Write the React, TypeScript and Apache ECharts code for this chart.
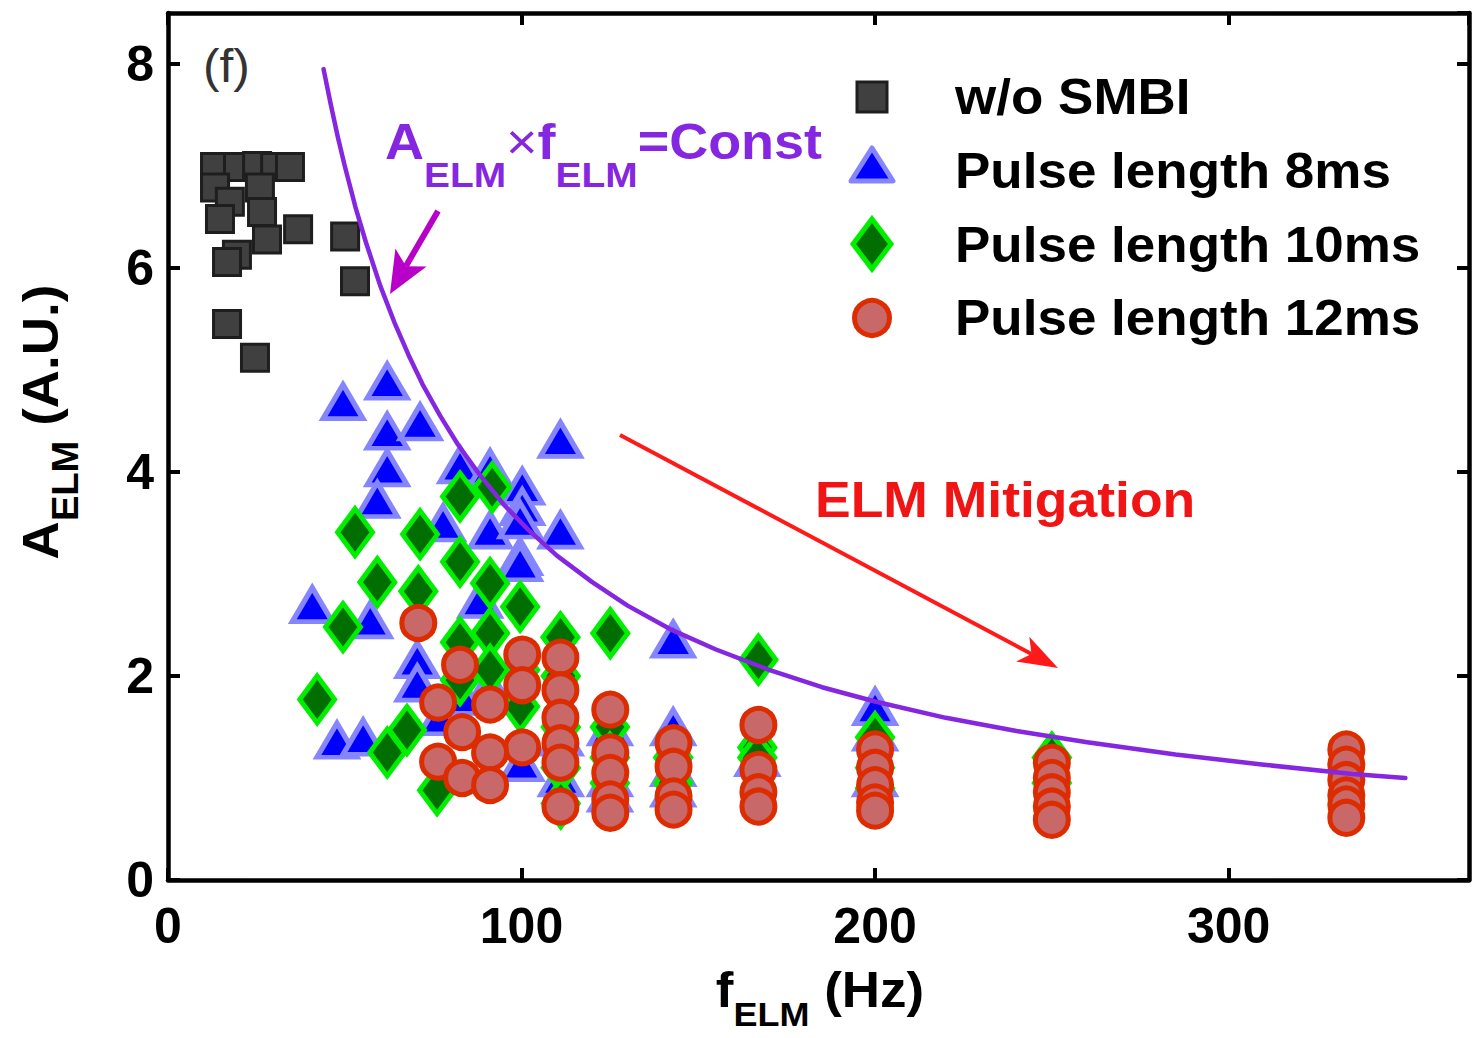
import React, { useEffect, useRef } from "react";
import * as echarts from "echarts";

const FONT = "'Liberation Sans', Arial, Helvetica, sans-serif";

const xTicks = { min: 0, max: 368, interval: 100 };
const yTicks = { min: 0, max: 8.5, interval: 2 };

const seriesNames = ["w/o SMBI", "Pulse length 8ms", "Pulse length 10ms", "Pulse length 12ms"];

// w/o SMBI (black squares)
const noSmbi: [number, number][] = [
  [13.3, 6.99], [19.8, 6.99], [25.2, 7.0], [30.3, 6.99], [34.5, 6.99],
  [13.3, 6.79], [26.0, 6.79], [17.5, 6.65], [14.7, 6.48], [26.6, 6.55],
  [28.0, 6.28], [36.8, 6.38], [50.1, 6.31], [19.5, 6.13], [16.7, 6.06],
  [52.9, 5.87], [16.7, 5.45], [24.6, 5.12],
];

// Pulse length 8ms (blue triangles)
const pulse8: [number, number][] = [
  [49.5, 4.69], [62.0, 4.89], [62.0, 4.40], [71.3, 4.49], [62.0, 4.04], [59.2, 3.73],
  [82.6, 4.07], [91.1, 4.04], [111.0, 4.32], [100.2, 3.86], [100.2, 3.66], [77.8, 3.50],
  [91.1, 3.43], [99.6, 3.53], [111.0, 3.43], [99.6, 3.17], [40.8, 2.70], [57.2, 2.55],
  [70.5, 2.16], [70.5, 1.93], [47.8, 1.37], [55.2, 1.40], [88.3, 2.75], [99.6, 3.11],
  [142.9, 2.36], [200.0, 1.70],
  [100.0, 1.15], [111.1, 1.40], [111.1, 1.00], [125.0, 1.50], [125.0, 1.00], [125.0, 0.85],
  [142.9, 1.50], [142.9, 1.10], [142.9, 0.90], [166.7, 1.20], [200.0, 1.45], [200.0, 1.00],
  [90.9, 1.90], [83.3, 1.80], [76.9, 1.60],
];

// Pulse length 10ms (green diamonds)
const pulse10: [number, number][] = [
  [52.9, 3.41], [71.3, 3.39], [82.6, 3.76], [91.7, 3.85], [59.2, 2.92], [82.6, 3.12],
  [91.1, 2.91], [70.8, 2.83], [49.5, 2.48], [99.6, 2.68], [91.1, 2.42], [82.6, 2.33],
  [111.0, 2.38], [125.1, 2.42], [167.0, 2.16], [42.2, 1.77], [67.6, 1.47], [62.0, 1.25],
  [76.1, 0.88], [99.6, 2.06], [91.1, 2.06], [82.6, 1.96], [99.6, 1.70],
  [111.1, 2.00], [111.1, 1.50], [111.1, 1.10], [111.1, 0.75], [125.0, 1.50], [125.0, 1.20],
  [125.0, 0.95], [142.9, 1.20], [142.9, 0.95], [166.7, 1.30], [166.7, 1.20], [200.0, 1.40],
  [200.0, 1.10], [200.0, 0.90], [250.0, 1.20], [250.0, 0.95],
];

// Pulse length 12ms (red circles)
const pulse12: [number, number][] = [
  [70.8, 2.52], [82.6, 2.11], [100.2, 2.21], [100.2, 1.91], [100.2, 1.30],
  [111.0, 2.18], [111.0, 1.86], [111.0, 1.59], [111.0, 1.34], [111.0, 1.15], [111.0, 0.72],
  [76.4, 1.74], [91.1, 1.72], [83.2, 1.45], [91.1, 1.25], [76.4, 1.16], [83.2, 1.00], [91.1, 0.93],
  [125.1, 1.67], [125.1, 1.25], [125.1, 1.05], [125.1, 0.79], [125.1, 0.66],
  [143.0, 1.34], [143.0, 1.11], [143.0, 0.82], [143.0, 0.69],
  [167.0, 1.52], [167.0, 1.08], [167.0, 0.86], [167.0, 0.72],
  [200.0, 1.28], [200.0, 1.10], [200.0, 0.93], [200.0, 0.76], [200.0, 0.68],
  [250.0, 1.15], [250.0, 1.00], [250.0, 0.86], [250.0, 0.72], [250.0, 0.59],
  [333.3, 1.28], [333.3, 1.13], [333.3, 0.98], [333.3, 0.83], [333.3, 0.74], [333.3, 0.61],
];

// A_ELM x f_ELM = Const curve
const curveF = [44, 46, 48, 50, 53, 56, 60, 64, 68, 72, 77, 82, 88, 95, 102, 110, 120, 130, 142, 155, 170, 185, 200, 220, 240, 260, 285, 310, 335, 350];
const curveA = [7.95, 7.61, 7.29, 7.0, 6.6, 6.25, 5.83, 5.47, 5.15, 4.86, 4.55, 4.27, 3.98, 3.68, 3.43, 3.18, 2.92, 2.69, 2.46, 2.26, 2.06, 1.89, 1.75, 1.59, 1.46, 1.35, 1.23, 1.13, 1.04, 1.0];

const purple = "#8526e0";

function subRich(mainSize: number, subSize: number, subPad: number, color: string) {
  return {
    m: { fontSize: mainSize, fontWeight: "bold", fontFamily: FONT, fill: color, verticalAlign: "top" },
    t: { fontSize: mainSize, fontWeight: "normal", fontFamily: FONT, fill: color, verticalAlign: "top" },
    s: { fontSize: subSize, fontWeight: "bold", fontFamily: FONT, fill: color, verticalAlign: "top", padding: [subPad, 0, 0, 0] },
  };
}

export default function App() {
  const ref = useRef<HTMLDivElement>(null);
  useEffect(() => {
    if (!ref.current) return;
    const chart = echarts.init(ref.current, null, { renderer: "svg" });

    const axisLine = { show: true, onZero: false, lineStyle: { color: "#000", width: 4.5 } };
    const axisTick = { show: true, inside: true, length: 12, lineStyle: { color: "#000", width: 4 } };
    const labelStyle = { fontSize: 50, fontWeight: "bold", fontFamily: FONT, color: "#000" };

    const legendY = [97, 171, 245, 318];

    const option: any = {
      animation: false,
      backgroundColor: "#ffffff",
      grid: { left: 168, right: 3, top: 13, bottom: 158, containLabel: false, outerBoundsMode: "none" },
      xAxis: [
        {
          type: "value", position: "bottom", ...xTicks,
          axisLine, axisTick,
          axisLabel: { ...labelStyle, margin: 21, showMaxLabel: false },
          splitLine: { show: false },
        },
        {
          type: "value", position: "top", ...xTicks,
          axisLine, axisTick,
          axisLabel: { show: false },
          splitLine: { show: false },
        },
      ],
      yAxis: [
        {
          type: "value", position: "left", ...yTicks,
          axisLine, axisTick,
          axisLabel: { ...labelStyle, margin: 14, showMaxLabel: false },
          splitLine: { show: false },
        },
        {
          type: "value", position: "right", ...yTicks,
          axisLine, axisTick,
          axisLabel: { show: false },
          splitLine: { show: false },
        },
      ],
      series: [
        {
          name: seriesNames[0], type: "scatter", data: noSmbi, symbol: "rect", symbolSize: 27, z: 2,
          itemStyle: { color: "#404040", borderColor: "#1e1e1e", borderWidth: 3, opacity: 1 },
          emphasis: { disabled: true },
        },
        {
          name: seriesNames[1], type: "scatter", data: pulse8, symbol: "triangle", symbolSize: [40, 34], z: 3,
          itemStyle: { color: "#0000ff", borderColor: "#8585ff", borderWidth: 5, opacity: 1 },
          emphasis: { disabled: true },
        },
        {
          name: seriesNames[2], type: "scatter", data: pulse10, symbol: "diamond", symbolSize: [35, 47], z: 4,
          itemStyle: { color: "#006e00", borderColor: "#00ee00", borderWidth: 5, opacity: 1 },
          emphasis: { disabled: true },
        },
        {
          name: seriesNames[3], type: "scatter", data: pulse12, symbol: "circle", symbolSize: 33, z: 5,
          itemStyle: { color: "#c86868", borderColor: "#dc2c00", borderWidth: 5, opacity: 1 },
          emphasis: { disabled: true },
        },
        {
          name: "Const", type: "line", data: curveF.map((f, i) => [f, curveA[i]]),
          showSymbol: false, smooth: false, z: 6,
          lineStyle: { color: purple, width: 4.5, cap: "round", join: "round" },
          emphasis: { disabled: true },
        },
      ],
      graphic: [
        // legend markers
        { type: "rect", shape: { x: 857, y: 82, width: 30, height: 30 }, style: { fill: "#404040", stroke: "#1e1e1e", lineWidth: 3 } },
        { type: "polygon", shape: { points: [[872, 148], [893, 181], [851, 181]] }, style: { fill: "#0000ff", stroke: "#8585ff", lineWidth: 5, lineJoin: "round" } },
        { type: "polygon", shape: { points: [[872, 219], [891, 244], [872, 269], [853, 244]] }, style: { fill: "#006e00", stroke: "#00ee00", lineWidth: 5 } },
        { type: "circle", shape: { cx: 872, cy: 318, r: 17.5 }, style: { fill: "#c86868", stroke: "#dc2c00", lineWidth: 5 } },
        ...seriesNames.map((n, i) => ({
          type: "text", x: 955, y: legendY[i], scaleX: 1.06,
          style: { text: n, fontSize: 50, fontWeight: "bold", fontFamily: FONT, fill: "#000", align: "left", verticalAlign: "middle" },
        })),
        // panel label
        {
          type: "text", x: 203, y: 66, scaleX: 1.08,
          style: { text: "(f)", fontSize: 46, fontWeight: "normal", fontFamily: FONT, fill: "#333", align: "left", verticalAlign: "middle" },
        },
        // formula annotation
        {
          type: "text", x: 385, y: 117, scaleX: 1.08, z: 10,
          style: {
            text: "{m|A}{s|ELM}{t|×}{m|f}{s|ELM}{m|=Const}",
            align: "left", verticalAlign: "top",
            rich: subRich(50, 36, 40, purple),
          },
        },
        // magenta arrow
        { type: "line", z: 10, shape: { x1: 438, y1: 211, x2: 406, y2: 266 }, style: { stroke: "#b900c8", lineWidth: 6 } },
        { type: "polygon", z: 10, shape: { points: [[390, 294], [395.4, 248.6], [406, 266.3], [426.6, 266.6]] }, style: { fill: "#b900c8" } },
        // red arrow
        { type: "line", z: 10, shape: { x1: 620, y1: 435, x2: 1031.5, y2: 653.9 }, style: { stroke: "#ff1a1a", lineWidth: 4 } },
        { type: "polygon", z: 10, shape: { points: [[1058, 668], [1016.1, 661.6], [1031.5, 653.9], [1029.3, 636.8]] }, style: { fill: "#ff1a1a" } },
        {
          type: "text", x: 815, y: 500, scaleX: 1.07, z: 10,
          style: { text: "ELM Mitigation", fontSize: 50, fontWeight: "bold", fontFamily: FONT, fill: "#f01414", align: "left", verticalAlign: "middle" },
        },
        // x axis title
        {
          type: "text", x: 820, y: 965, scaleX: 1.06,
          style: {
            text: "{m|f}{s|ELM}{m| (Hz)}",
            align: "center", verticalAlign: "top",
            rich: subRich(50, 34, 32, "#000"),
          },
        },
        // y axis title
        {
          type: "text", x: 16, y: 422, rotation: Math.PI / 2, scaleX: 1.06,
          style: {
            text: "{m|A}{s|ELM}{m| (A.U.)}",
            align: "center", verticalAlign: "top",
            rich: subRich(50, 36, 31, "#000"),
          },
        },
      ],
    };

    chart.setOption(option);
    return () => chart.dispose();
  }, []);

  return (
    <div
      ref={ref}
      style={{ position: "absolute", left: 0, top: 0, width: 1472, height: 1038, background: "#fff" }}
    />
  );
}
